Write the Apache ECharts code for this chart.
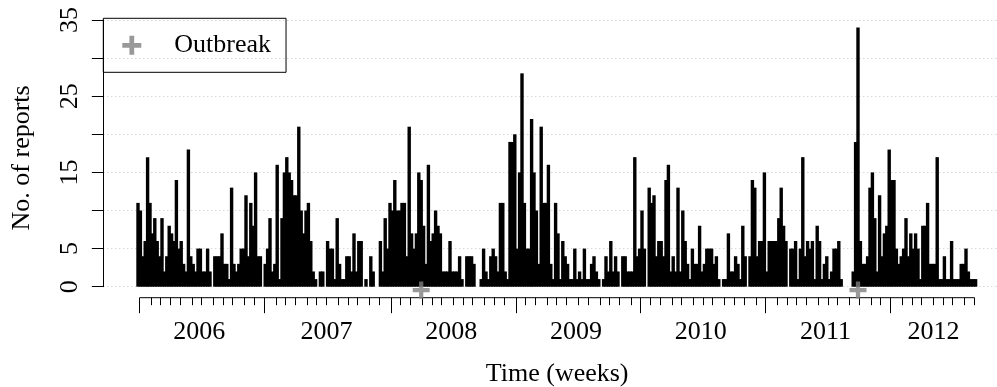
<!DOCTYPE html>
<html><head><meta charset="utf-8">
<script src="https://cdn.jsdelivr.net/npm/echarts@6/dist/echarts.min.js"></script>
<style>html,body{margin:0;padding:0;background:#fff}#c{width:997px;height:387px}</style>
</head><body><div id="c"></div>
<script>
// ---------------- data ----------------
const firstWeekStart = '2006-01-02';   // Monday of the first plotted week
const weeklyCounts = [
  11,10,4,6,17,11,7,9,6,4, 9,2,4,8,7,6,14,5,6,3, 2,18,4,3,2,5,5,2,2,5, 2,0,
  4,4,4,7,3,3,1,13,
  3,2,3,5,5,12,4,11,8,15, 4,4,0,3,5,9,2,3,16,1, 9,15,17,15,14,12,12,21,
  10,7,10,11,6,2,1,0,2,2, 0,6,5,5,1,9,3,1,1,4, 4,2,7,2,6,6,0,1,0,4, 2,0,0,6,2,9,5,
  11,10,14,10,10,11,11,4,21,7, 5,7,15,14,8,3,16,6,7,10, 8,7,2,2,2,6,2,2,2,4, 1,0,4,4,
  4,3,0,0,1,5,2,1,4,5, 4,2,11,11,2,1,19,19,20,5, 15,
  28,11,5,5,22,15,10,3,21,11, 11,16,3,1,11,7,1,
  6,4,3,1,1,5,1,2,1,5, 1,1,3,4,2,1,0,1,4,2, 6,2,4,2,0,4,4,2,2,2, 17,4,5,
  10,5,0,13,11,12,4,6,6,4, 14,16,2,4,2,13,2,10,6,3, 1,5,3,3,8,2,3,5,5,5, 3,4,1,0,1,
  1,7,2,2,4,3,1,8,4,0, 4,14,13,4,6,6,15,2,6,6, 6,6,9,13,8,6,0,5,5,6, 1,5,17,4,6,5,
  6,1,8,6,1,3,4,1,2,5, 5,6,1,0,0,0,0,2,19,34, 6,3,3,4,13,15,9,2,12,4, 7,8,18,14,
  14,5,3,4,5,9,4,7,5,7, 5,1,8,8,11,3,3,3,17,1, 1,4,1,1,6,1,1,1,3,3, 5,2,1,1,1
];
const outbreakWeeks = [118, 300];
const yearLabels = ['2006','2007','2008','2009','2010','2011','2012'];
const yTickLabels = [0, 5, 15, 25, 35];

// ---------------- layout / style ----------------
const W = 997, H = 387;
const FONT = "'Liberation Serif','DejaVu Serif',serif";
const GRID_LEFT = 103.3, GRID_TOP = 20, ZERO_PX = 286.7;
const PX_PER_WEEK = 2.4, BAR0_PX = 138;
const xMin = (GRID_LEFT - BAR0_PX) / PX_PER_WEEK;
const xMax = (W - BAR0_PX) / PX_PER_WEEK;
const AXIS_OFFSET = 11, MAJOR_LEN = 15.5, MINOR_LEN = 7.5;
const PLUS = 'path://M0,7.5H20V12.5H0Z M7.5,0H12.5V20H7.5Z';

// ---------------- time axis ticks from the weekly calendar ----------------
const DAY = 86400000;
const t0 = Date.parse(firstWeekStart + 'T00:00:00Z');
const tickData = [];          // [position, isMajor]
const yearWeeks = {};
let prevY = -1, prevM = -1;
weeklyCounts.forEach((_, i) => {
  const d = new Date(t0 + i * 7 * DAY);
  const y = d.getUTCFullYear(), m = d.getUTCMonth();
  if (y !== prevY || m !== prevM) tickData.push([i + 0.5, y !== prevY ? 1 : 0]);
  (yearWeeks[y] = yearWeeks[y] || []).push(i);
  prevY = y; prevM = m;
});
const yearLabelData = yearLabels.map(l => {
  const w = yearWeeks[+l];
  return [w[Math.floor((w.length - 1) / 2)] + 0.5, l];
});
const axisLineData = [[tickData[0][0], tickData[tickData.length - 1][0]]];

const chart = echarts.init(document.getElementById('c'), null, {renderer: 'canvas', width: W, height: H});
const crisp = v => Math.round(v - 0.5) + 0.5;

chart.setOption({
  animation: false,
  backgroundColor: '#fff',
  grid: {left: GRID_LEFT, top: GRID_TOP, right: 0, bottom: H - ZERO_PX,
         containLabel: false, outerBoundsMode: 'none'},
  legend: {
    data: ['Outbreak'],
    left: GRID_LEFT, top: 18.3,
    orient: 'vertical',
    icon: PLUS,
    itemWidth: 19, itemHeight: 19,
    padding: [14, 15, 14, 19],
    borderColor: '#000', borderWidth: 1, borderRadius: 0,
    backgroundColor: 'transparent',
    selectedMode: false,
    formatter: n => '{t|' + n + '}',
    textStyle: {fontFamily: FONT, fontSize: 26, color: '#000',
      rich: {t: {fontFamily: FONT, fontSize: 26, color: '#000', padding: [0, 0, 0, 28]}}}
  },
  xAxis: {
    type: 'value', min: xMin, max: xMax,
    axisLine: {show: false}, axisTick: {show: false}, axisLabel: {show: false}, splitLine: {show: false},
    name: 'Time (weeks)', nameLocation: 'middle', nameGap: 74,
    nameTextStyle: {fontFamily: FONT, fontSize: 26, color: '#000', padding: [0, 0, 0, 14]}
  },
  yAxis: {
    type: 'value', min: 0, max: 35, interval: 5,
    axisLine: {show: true, onZero: false, lineStyle: {color: '#000', width: 1}},
    axisTick: {show: true, length: 11.5, lineStyle: {color: '#000', width: 1}},
    axisLabel: {rotate: 90, margin: 20, fontFamily: FONT, fontSize: 26, color: '#000',
      formatter: v => yTickLabels.includes(v) ? String(v) : ''},
    splitLine: {show: true, lineStyle: {color: '#c4c4c4', width: 1, type: [1, 3]}},
    name: 'No. of reports', nameLocation: 'middle', nameRotate: 90, nameGap: 68,
    nameTextStyle: {fontFamily: FONT, fontSize: 26, color: '#000', padding: [0, 9, 0, 0]}
  },
  series: [
    {
      type: 'bar', name: 'Reports',
      data: weeklyCounts.map((v, i) => [i, v]),
      barWidth: PX_PER_WEEK + 1,
      itemStyle: {color: '#000'},
      silent: true, z: 2
    },
    {
      type: 'scatter', name: 'Outbreak',
      data: outbreakWeeks.map(w => [w, 0]),
      symbol: PLUS, symbolSize: 17, symbolOffset: [0, 3.4],
      itemStyle: {color: '#808080'},
      clip: false, silent: true, z: 5
    },
    {
      type: 'custom', name: 'ticks', clip: false, silent: true, z: 4,
      data: tickData,
      renderItem: (params, api) => {
        const x = crisp(api.coord([api.value(0), 0])[0]);
        const y0 = api.coord([0, 0])[1] + AXIS_OFFSET;
        const len = api.value(1) ? MAJOR_LEN : MINOR_LEN;
        return {type: 'line', shape: {x1: x, y1: y0, x2: x, y2: y0 + len},
          style: {stroke: '#000', lineWidth: 1}};
      }
    },
    {
      type: 'custom', name: 'axisline', clip: false, silent: true, z: 4,
      data: axisLineData,
      renderItem: (params, api) => {
        const x1 = crisp(api.coord([api.value(0), 0])[0]);
        const x2 = crisp(api.coord([api.value(1), 0])[0]);
        const y0 = api.coord([0, 0])[1] + AXIS_OFFSET;
        return {type: 'line', shape: {x1: x1, y1: y0, x2: x2, y2: y0},
          style: {stroke: '#000', lineWidth: 1}};
      }
    },
    {
      type: 'custom', name: 'yearLabels', clip: false, silent: true, z: 4,
      data: yearLabelData,
      renderItem: (params, api) => {
        const x = api.coord([api.value(0), 0])[0];
        const y = api.coord([0, 0])[1] + 45;
        return {type: 'text', x: x, y: y,
          style: {text: yearLabelData[params.dataIndex][1], fontFamily: FONT, fontSize: 26,
            fill: '#000', textAlign: 'center', textVerticalAlign: 'middle'}};
      }
    }
  ]
});
</script></body></html>
